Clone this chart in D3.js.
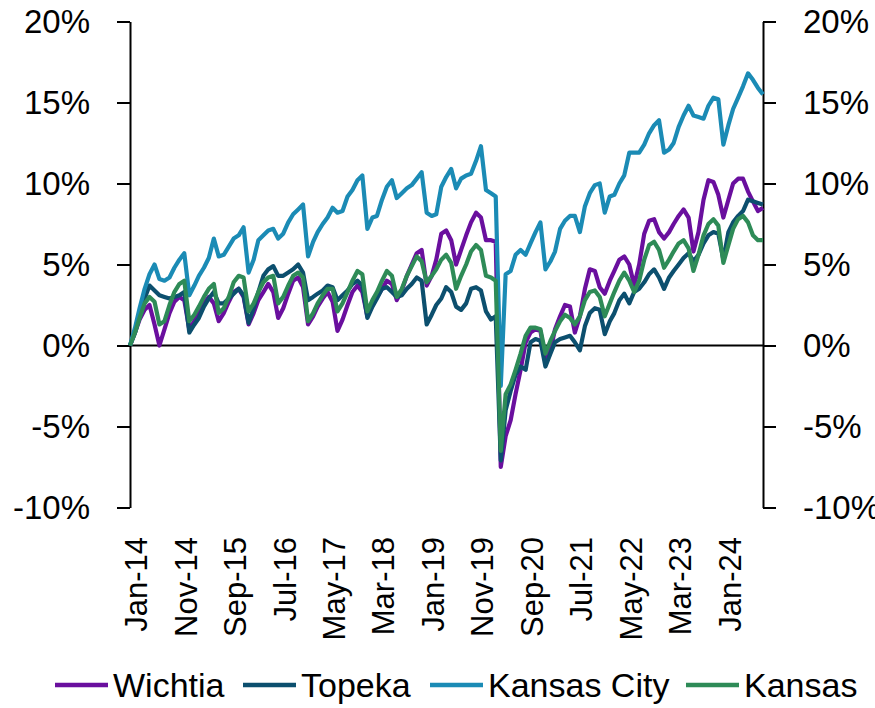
<!DOCTYPE html>
<html>
<head>
<meta charset="utf-8">
<script src="https://cdn.jsdelivr.net/npm/d3@7"></script>
<style>
  body { margin: 0; background: #fff; }
  svg text { font-family: Arial, "Liberation Sans", sans-serif; fill: #000; }
</style>
</head>
<body>
<svg id="chart" width="875" height="708"></svg>
<script>
// monthly % change since Jan-14, Jan-14 .. Sep-24
const wichita = [
	0, 0.8, 1.6, 2.2, 2.5, 1.3, 0.0, 1.0, 2.0, 2.7, 3.0, 2.8,
	1.0, 1.5, 2.0, 2.6, 3.0, 2.6, 1.5, 2.0, 2.7, 3.3, 3.5, 3.0,
	1.3, 2.0, 2.8, 3.3, 3.8, 3.3, 1.7, 2.3, 3.2, 4.0, 4.2, 3.6,
	1.3, 1.8, 2.4, 2.9, 3.3, 2.7, 0.9, 1.6, 2.5, 3.3, 3.7, 3.3,
	1.8, 2.5, 3.0, 3.5, 4.0, 3.8, 2.8, 3.4, 4.3, 5.0, 5.7, 5.9,
	3.7, 4.3, 5.3, 6.9, 7.1, 6.5, 5.0, 5.9, 6.8, 7.6, 8.2, 7.9,
	6.5, 6.5, 6.4, -7.5, -5.6, -4.6, -3.0, -1.5, 0.2, 0.8, 1.0, 0.9,
	-0.9, -0.3, 1.0, 1.8, 2.5, 2.4, 0.8, 1.8, 3.5, 4.7, 4.6, 3.6,
	3.2, 4.0, 4.6, 5.3, 5.5, 5.0, 3.7, 5.0, 6.9, 7.7, 7.8, 7.0,
	6.6, 7.0, 7.5, 8.0, 8.4, 7.9, 5.8, 7.0, 9.0, 10.2, 10.1, 9.3,
	7.9, 9.0, 10.0, 10.3, 10.3, 9.5, 8.9, 8.3, 8.5
];
const topeka = [
	0, 0.8, 1.8, 2.9, 3.7, 3.4, 3.1, 3.0, 2.9, 3.0, 3.1, 3.3,
	0.8, 1.3, 1.7, 2.4, 2.9, 3.3, 2.6, 2.6, 2.9, 3.2, 3.5, 3.1,
	1.4, 2.3, 3.3, 4.3, 4.7, 4.9, 4.3, 4.3, 4.5, 4.7, 5.0, 4.5,
	2.8, 3.0, 3.2, 3.4, 3.7, 3.6, 2.8, 3.1, 3.4, 3.8, 4.0, 3.7,
	1.7, 2.4, 2.9, 3.5, 3.6, 3.3, 3.0, 3.1, 3.5, 3.8, 4.2, 4.0,
	1.3, 1.9, 2.5, 2.9, 3.6, 3.3, 2.4, 2.2, 2.6, 3.5, 3.6, 3.4,
	2.1, 1.6, 1.8, -7.1, -4.0, -2.8, -1.8, -1.3, -1.5, 0.2, 0.4, 0.3,
	-1.3, -0.5, 0.2, 0.4, 0.5, 0.6, 0.2, -0.3, 1.2, 2.0, 2.3, 2.2,
	0.7, 1.5, 2.0, 2.8, 3.2, 2.6, 3.3, 3.5, 3.9, 4.4, 4.7, 4.2,
	3.5, 4.2, 4.6, 5.0, 5.4, 5.7, 5.2, 5.6, 6.3, 6.8, 7.0, 6.9,
	5.3, 7.0, 7.6, 8.0, 8.3, 9.0, 8.9, 8.8, 8.7
];
const kansasCity = [
	0, 1.1, 2.3, 3.5, 4.4, 5.0, 4.1, 4.0, 4.2, 4.8, 5.3, 5.7,
	3.1, 3.7, 4.3, 4.8, 5.4, 6.6, 5.5, 5.6, 6.1, 6.6, 6.8, 7.3,
	4.5, 5.3, 6.5, 6.8, 7.1, 7.2, 6.6, 6.9, 7.6, 8.1, 8.4, 8.7,
	5.5, 6.4, 7.0, 7.5, 7.9, 8.5, 8.2, 8.3, 9.2, 9.6, 10.2, 10.5,
	7.2, 7.9, 8.0, 9.0, 9.8, 10.2, 9.1, 9.4, 9.7, 9.9, 10.3, 10.7,
	8.2, 8.0, 8.1, 9.8, 10.4, 10.9, 9.7, 10.3, 10.5, 10.6, 11.4, 12.3,
	9.6, 9.4, 9.2, -2.5, 4.4, 4.6, 5.6, 5.9, 5.6, 6.3, 7.0, 7.6,
	4.7, 5.2, 5.8, 7.2, 7.7, 8.0, 8.0, 7.0, 8.6, 9.4, 9.9, 10.0,
	8.2, 9.2, 9.3, 10.0, 10.5, 11.9, 11.9, 11.9, 12.4, 13.1, 13.6, 13.9,
	11.9, 12.1, 12.5, 13.5, 14.2, 14.8, 14.2, 14.1, 14.0, 14.8, 15.3, 15.2,
	12.4, 13.6, 14.6, 15.3, 16.0, 16.8, 16.4, 15.9, 15.5
];
const kansas = [
	0, 0.8, 1.7, 2.6, 3.0, 2.7, 1.3, 1.5, 2.5, 3.3, 3.8, 4.0,
	1.5, 1.9, 2.4, 3.0, 3.5, 3.8, 2.0, 2.3, 3.0, 3.9, 4.3, 4.2,
	2.1, 2.6, 3.3, 3.9, 4.2, 4.3, 2.6, 3.0, 3.7, 4.3, 4.5, 4.2,
	1.5, 2.0, 2.6, 3.1, 3.5, 3.5, 2.1, 2.6, 3.3, 4.0, 4.6, 4.4,
	2.1, 2.8, 3.3, 4.0, 4.6, 4.3, 3.0, 3.5, 4.3, 4.9, 5.5, 5.2,
	3.9, 4.3, 4.7, 5.3, 5.6, 5.1, 3.5, 4.3, 5.0, 5.8, 6.2, 5.9,
	4.3, 4.2, 4.0, -6.5, -3.0, -2.4, -1.5, -0.5, 0.6, 1.1, 1.1, 1.0,
	-0.5, 0.3, 0.9, 1.5, 1.9, 1.7, 1.3, 1.8, 2.8, 3.3, 3.4, 3.0,
	1.8, 2.6, 3.3, 4.0, 4.5, 4.0, 3.3, 4.0, 5.3, 6.2, 6.4, 5.9,
	4.8, 5.3, 5.8, 6.3, 6.5, 6.0, 4.6, 5.6, 6.8, 7.5, 7.8, 7.4,
	5.1, 6.2, 7.2, 7.8, 8.0, 7.6, 6.8, 6.5, 6.5
];

const seriesNames = ["Wichtia", "Topeka", "Kansas City", "Kansas"];
const seriesColors = ["#6a0f9e", "#0c4f6e", "#1b8bb5", "#2e8b57"];
const yTicks = [-10, -5, 0, 5, 10, 15, 20];

const start = new Date(2014, 0, 1);
const dates = wichita.map((d, i) => d3.timeMonth.offset(start, i));
const xTicks = d3.range(0, dates.length, 10).map(i => dates[i]);

const series = [wichita, topeka, kansasCity, kansas].map((vals, k) => ({
	name: seriesNames[k],
	color: seriesColors[k],
	values: vals.map((v, i) => ({ date: dates[i], value: v }))
}));

const svg = d3.select("#chart");
const plot = { left: 130, right: 763, top: 21.5, bottom: 507.5 };

let x = d3.scaleTime()
	.domain([dates[0], dates[dates.length - 1]])
	.range([plot.left, plot.right]);

let y = d3.scaleLinear()
	.domain([-10, 20])
	.range([plot.bottom, plot.top]);

// left axis
svg.append("g")
	.attr("transform", "translate(" + plot.left + ",0)")
	.call(d3.axisLeft(y).tickValues(yTicks).tickSize(13).tickSizeOuter(0).tickPadding(27).tickFormat(d => d + "%"));

// right axis
svg.append("g")
	.attr("transform", "translate(" + plot.right + ",0)")
	.call(d3.axisRight(y).tickValues(yTicks).tickSize(13).tickSizeOuter(0).tickPadding(27).tickFormat(d => d + "%"));

svg.selectAll(".tick text").style("font-size", "33px");
svg.selectAll(".domain, .tick line").attr("stroke", "#000").attr("stroke-width", 2);

// zero line
svg.append("line")
	.attr("x1", plot.left).attr("x2", plot.right)
	.attr("y1", y(0)).attr("y2", y(0))
	.attr("stroke", "#000")
	.attr("stroke-width", 2);

// x labels (rotated, low position)
let xAxis = svg.append("g")
	.attr("transform", "translate(0,530)")
	.call(d3.axisBottom(x).tickValues(xTicks).tickSize(0).tickFormat(d3.timeFormat("%b-%y")));
xAxis.select(".domain").remove();
xAxis.selectAll("text")
	.attr("transform", "rotate(-90)")
	.attr("x", -7)
	.attr("y", 6)
	.attr("dy", "0.35em")
	.style("text-anchor", "end")
	.style("font-size", "31px");

// lines
let line = d3.line()
	.x(d => x(d.date))
	.y(d => y(d.value));

svg.selectAll(".series")
	.data(series)
	.enter()
	.append("path")
		.attr("class", "series")
		.attr("d", d => line(d.values))
		.attr("fill", "none")
		.attr("stroke", d => d.color)
		.attr("stroke-width", 4.2)
		.attr("stroke-linejoin", "round");

// legend
let legendX = [55, 243, 430, 686];
let legend = svg.selectAll(".legend")
	.data(series)
	.enter()
	.append("g")
		.attr("class", "legend")
		.attr("transform", (d, i) => "translate(" + legendX[i] + ",685)");

legend.append("line")
	.attr("x1", 0).attr("x2", 53)
	.attr("y1", 0).attr("y2", 0)
	.attr("stroke", d => d.color)
	.attr("stroke-width", 4.5);

legend.append("text")
	.attr("x", 58)
	.attr("dy", "0.35em")
	.style("font-size", "34px")
	.text(d => d.name);
</script>
</body>
</html>
